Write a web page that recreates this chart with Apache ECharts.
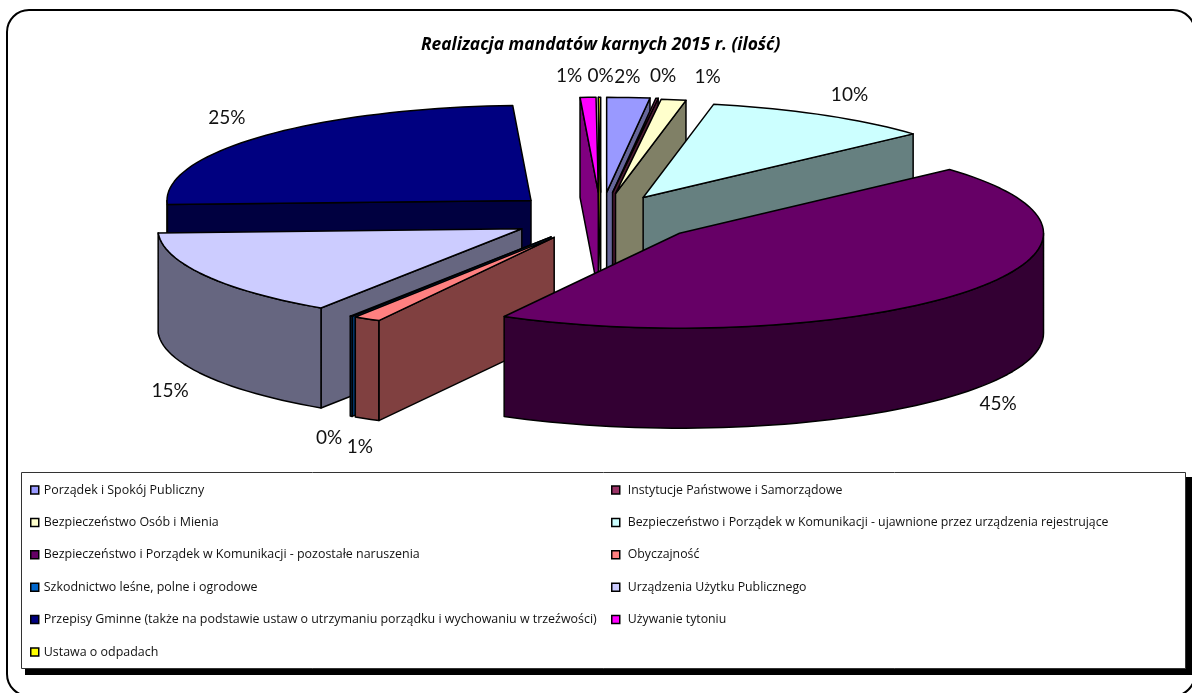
<!DOCTYPE html>
<html>
<head>
<meta charset="utf-8">
<style>html,body{margin:0;padding:0;background:#fff}#c{width:1192px;height:693px}</style>
<script src="https://cdn.jsdelivr.net/npm/echarts@6/dist/echarts.min.js"></script>
</head>
<body>
<div id="c"></div>
<script>
var titleText = 'Realizacja mandatów karnych 2015 r. (ilość)';
var categories = [
  'Porządek i Spokój Publiczny',
  'Instytucje Państwowe i Samorządowe',
  'Bezpieczeństwo Osób i Mienia',
  'Bezpieczeństwo i Porządek w Komunikacji - ujawnione przez urządzenia rejestrujące',
  'Bezpieczeństwo i Porządek w Komunikacji - pozostałe naruszenia',
  'Obyczajność',
  'Szkodnictwo leśne, polne i ogrodowe',
  'Urządzenia Użytku Publicznego',
  'Przepisy Gminne (także na podstawie ustaw o utrzymaniu porządku i wychowaniu w trzeźwości)',
  'Używanie tytoniu',
  'Ustawa o odpadach'
];
var shares = [1.9, 0.1, 1.1, 10.2, 44.7, 1.2, 0.1, 15.0, 24.9, 0.7, 0.1];
var explosion = [0.26, 0.26, 0.25, 0.235, 0.275, 0.25, 0.25, 0.25, 0.26, 0.26, 0.26];
var colors = ['#9999FF','#993366','#FFFFCC','#CCFFFF','#660066','#FF8080','#0066CC','#CCCCFF','#000080','#FF00FF','#FFFF00'];
var wallColors = ['#666699','#4D1A33','#808066','#668080','#330033','#804040','#003366','#666680','#000040','#800080','#808000'];
// painter's order, back to front
var drawOrder = [9, 10, 0, 1, 2, 3, 8, 7, 6, 5, 4];
// label nudges away from the rim anchor of each slice
var labelNudge = [[-1,-21],[6,-22],[34,-23],[27,-20],[33,12],[-7,28],[-22,22],[-35,15],[-35,-19],[-19,-21],[1,-21]];

var PIE = {cx: 601, cy: 217, rx: 364, ry: 95, depth: 100};
var total = shares.reduce(function (a, b) { return a + b; }, 0);
var RAD = Math.PI / 180;

function sliceAngles(i) {
  var before = 0;
  for (var k = 0; k < i; k++) before += shares[k];
  return {a0: before / total * 360, a1: (before + shares[i]) / total * 360};
}
function arcPts(ax, ay, a0, a1, dy) {
  var n = Math.max(1, Math.ceil((a1 - a0) / 2)), pts = [];
  for (var j = 0; j <= n; j++) {
    var t = (a0 + (a1 - a0) * j / n) * RAD;
    pts.push([ax + PIE.rx * Math.sin(t), ay - PIE.ry * Math.cos(t) + dy]);
  }
  return pts;
}
function poly(points, fill, z2) {
  return {type: 'polygon', z2: z2, shape: {points: points},
    style: {fill: fill, stroke: '#000', lineWidth: 1.5, lineJoin: 'round'}};
}
function renderSlice(params, api) {
  var i = params.seriesIndex;
  var ang = sliceAngles(i), a0 = ang.a0, a1 = ang.a1;
  var mid = (a0 + a1) / 2 * RAD;
  var ax = PIE.cx + PIE.rx * explosion[i] * Math.sin(mid);
  var ay = PIE.cy - PIE.ry * explosion[i] * Math.cos(mid);
  var children = [], d = PIE.depth;
  var wall = wallColors[i];
  function edgeWall(a) {
    var t = a * RAD, px = ax + PIE.rx * Math.sin(t), py = ay - PIE.ry * Math.cos(t);
    children.push(poly([[ax, ay], [px, py], [px, py + d], [ax, ay + d]], wall, 1));
  }
  // radial walls are drawn only when they face the viewer
  if (Math.cos((a1 + 90) * RAD) < 0) edgeWall(a1);
  if (Math.cos((a0 - 90) * RAD) < 0) edgeWall(a0);
  // outer rim wall: the front half of the ellipse
  var r0 = Math.max(a0, 90), r1 = Math.min(a1, 270);
  if (r1 > r0) {
    var up = arcPts(ax, ay, r0, r1, 0), down = arcPts(ax, ay, r0, r1, d).reverse();
    children.push(poly(up.concat(down), wall, 2));
  }
  // top face
  children.push(poly([[ax, ay]].concat(arcPts(ax, ay, a0, a1, 0)), colors[i], 3));
  // percent label
  var cm = Math.cos(mid), sm = Math.sin(mid);
  children.push({
    type: 'text', z2: 4,
    style: {
      text: Math.round(api.value(0)) + '%',
      x: ax + PIE.rx * sm + labelNudge[i][0],
      y: ay - PIE.ry * cm + (cm < 0 ? d : 0) + labelNudge[i][1],
      align: 'center', verticalAlign: 'middle',
      fill: '#111', font: '19px Lato, sans-serif'
    }
  });
  return {type: 'group', children: children};
}

var series = categories.map(function (name, i) {
  return {
    type: 'custom', name: name, coordinateSystem: 'none',
    z: 2 + drawOrder.indexOf(i), silent: true, clip: false,
    itemStyle: {color: colors[i]},
    renderItem: renderSlice,
    data: [shares[i]]
  };
});

function legendCol(left, names, textInset, fontSize) {
  return {
    left: left, top: 483, orient: 'vertical', itemGap: 18.4,
    itemWidth: 8, itemHeight: 8, icon: 'rect', selectedMode: false,
    padding: 0, data: names, z: 20,
    itemStyle: {borderColor: '#000', borderWidth: 1.5},
    textStyle: {color: '#111', fontFamily: '"Open Sans", sans-serif', fontSize: fontSize, padding: [0, 0, 0, textInset], lineHeight: 14}
  };
}

var chart = echarts.init(document.getElementById('c'), null, {renderer: 'canvas', width: 1192, height: 693});
chart.setOption({
  animation: false,
  backgroundColor: '#fff',
  title: {
    text: titleText, left: 421, top: 35, padding: 0,
    textStyle: {fontFamily: '"Open Sans", sans-serif', fontSize: 17.4, fontWeight: 'bold', fontStyle: 'italic', color: '#000', lineHeight: 20}
  },
  legend: [
    legendCol(30, categories.filter(function (n, i) { return i % 2 === 0; }), 0, 12.45),
    legendCol(611, categories.filter(function (n, i) { return i % 2 === 1; }), 3, 12.3)
  ],
  graphic: [
    {type: 'rect', z: 0, shape: {x: 7, y: 10, width: 1188, height: 686, r: 22}, style: {fill: '#fff', stroke: '#000', lineWidth: 2}},
    {type: 'rect', z: 0, shape: {x: 25, y: 477, width: 1167, height: 198}, style: {fill: '#000'}},
    {type: 'rect', z: 1, shape: {x: 21.5, y: 472.5, width: 1164, height: 196}, style: {fill: '#fff', stroke: '#333', lineWidth: 1}}
  ],
  series: series
});
</script>
</body>
</html>
